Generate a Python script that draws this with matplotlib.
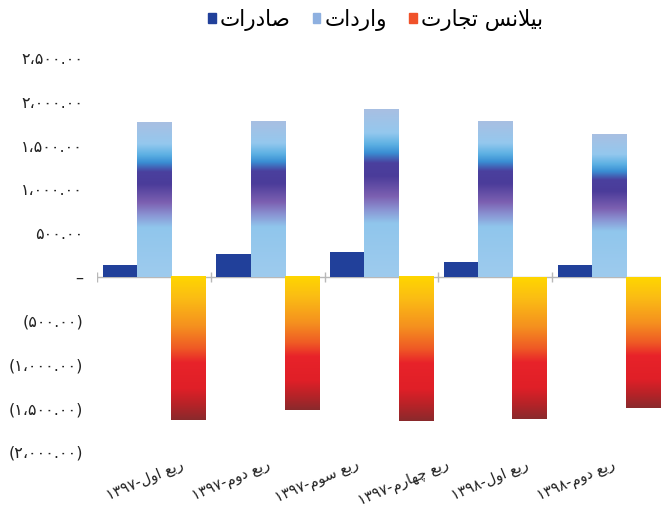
import re
import numpy as np
import matplotlib
matplotlib.use("Agg")
import matplotlib.pyplot as plt
import matplotlib.patches as mpatches
from matplotlib.colors import LinearSegmentedColormap
from matplotlib.ticker import FuncFormatter

plt.rcParams['font.family'] = ['DejaVu Sans']

# quarterly trade figures
quarters = ["ربع اول-۱۳۹۷", "ربع دوم-۱۳۹۷", "ربع سوم-۱۳۹۷",
            "ربع چهارم-۱۳۹۷", "ربع اول-۱۳۹۸", "ربع دوم-۱۳۹۸"]
series_names = ["صادرات", "واردات", "بیلانس تجارت"]
exports = [140, 265, 285, 172, 138]
imports = [1762, 1772, 1918, 1772, 1632]
balance = [-1640, -1525, -1645, -1618, -1496]
y_ticks = [-2000, -1500, -1000, -500, 0, 500, 1000, 1500, 2000, 2500]

# ---- minimal arabic/persian shaping (matplotlib has no bidi/shaping) ----
FORMS = {  # isolated, final, initial, medial
    'ا': ('\uFE8D', '\uFE8E', None, None),
    'ب': ('\uFE8F', '\uFE90', '\uFE91', '\uFE92'),
    'ت': ('\uFE95', '\uFE96', '\uFE97', '\uFE98'),
    'ج': ('\uFE9D', '\uFE9E', '\uFE9F', '\uFEA0'),
    'چ': ('\uFB7A', '\uFB7B', '\uFB7C', '\uFB7D'),
    'د': ('\uFEA9', '\uFEAA', None, None),
    'ر': ('\uFEAD', '\uFEAE', None, None),
    'س': ('\uFEB1', '\uFEB2', '\uFEB3', '\uFEB4'),
    'ص': ('\uFEB9', '\uFEBA', '\uFEBB', '\uFEBC'),
    'ع': ('\uFEC9', '\uFECA', '\uFECB', '\uFECC'),
    'ل': ('\uFEDD', '\uFEDE', '\uFEDF', '\uFEE0'),
    'م': ('\uFEE1', '\uFEE2', '\uFEE3', '\uFEE4'),
    'ن': ('\uFEE5', '\uFEE6', '\uFEE7', '\uFEE8'),
    'ه': ('\uFEE9', '\uFEEA', '\uFEEB', '\uFEEC'),
    'و': ('\uFEED', '\uFEEE', None, None),
    'ی': ('\uFBFC', '\uFBFD', '\uFEF3', '\uFEF4'),
}


def shape_fa(text):
    out = []
    i = 0
    n = len(text)
    while i < n:
        c = text[i]
        if c not in FORMS:
            out.append(c)
            i += 1
            continue
        prev = text[i - 1] if i > 0 else None
        nxt = text[i + 1] if i + 1 < n else None
        p = prev in FORMS and FORMS[prev][2] is not None
        if c == 'ل' and nxt == 'ا':
            out.append('\uFEFC' if p else '\uFEFB')
            i += 2
            continue
        iso, fin, ini, med = FORMS[c]
        q = ini is not None and nxt in FORMS
        if p and q:
            out.append(med)
        elif p:
            out.append(fin)
        elif q:
            out.append(ini)
        else:
            out.append(iso)
        i += 1
    return ''.join(out)


def rtl(text):
    s = shape_fa(text)
    runs = re.findall(r'[۰-۹0-9]+|[^۰-۹0-9]+', s)
    return ''.join(r if r[0] in '۰۱۲۳۴۵۶۷۸۹0123456789' else r[::-1]
                   for r in reversed(runs))


FA_DIGITS = str.maketrans('0123456789,', '۰۱۲۳۴۵۶۷۸۹،')


def fa_money(v, pos):
    if abs(v) < 1e-9:
        return '–'
    s = f'{abs(v):,.2f}'.translate(FA_DIGITS)
    return f'({s})' if v < 0 else s


# gradients (top -> bottom of each bar)
cmap_imp = LinearSegmentedColormap.from_list('imp', [
    (0.0, '#a8bfe2'), (0.14, '#94c8ee'), (0.21, '#5cb0e3'), (0.26, '#3a8ed3'),
    (0.32, '#4a409e'), (0.40, '#4b3c9a'), (0.52, '#7c60b1'), (0.60, '#8a94d3'),
    (0.68, '#90c6ec'), (1.0, '#9ecbee')])
cmap_bal = LinearSegmentedColormap.from_list('bal', [
    (0.0, '#ffd600'), (0.15, '#fbbd14'), (0.35, '#f5901f'), (0.5, '#ef5a25'),
    (0.6, '#e8232a'), (0.78, '#e01f27'), (0.9, '#b42328'), (1.0, '#8a2a2c')])
grad = np.linspace(0, 1, 256).reshape(-1, 1)

fig = plt.figure(figsize=(6.61, 5.08), dpi=100)
ax = fig.add_axes([97 / 661, 56 / 508, 1 - 97 / 661, 394 / 508])

x = np.arange(len(exports))
w = 0.3
ax.bar(x + 0.05, exports, width=w, align='edge', color='#21409a', zorder=2)
imp_bars = ax.bar(x + 0.05 + w, imports, width=w, align='edge', color='none', zorder=2)
bal_bars = ax.bar(x + 0.05 + 2 * w, balance, width=w, align='edge', color='none', zorder=2)

for bars, cmap in ((imp_bars, cmap_imp), (bal_bars, cmap_bal)):
    for b in bars:
        x0, y0 = b.get_x(), b.get_y()
        y1 = y0 + b.get_height()
        ax.imshow(grad, cmap=cmap, aspect='auto', origin='upper', zorder=2,
                  extent=(x0, x0 + b.get_width(), min(y0, y1), max(y0, y1)))

# category axis at zero
ax.axhline(0, color='#b8b8b8', lw=1, zorder=1)
ax.vlines(np.arange(len(exports) + 1), -60, 60, color='#b8b8b8', lw=1, zorder=1)

ax.set_xlim(0, (661 - 97) / 113.8)
ax.set_ylim(-2000, 2500)
ax.set_yticks(y_ticks)
ax.yaxis.set_major_formatter(FuncFormatter(fa_money))
ax.tick_params(axis='y', length=0, pad=10, labelsize=11.5, labelcolor='#222222')

ax.set_xticks(np.linspace(0.42, 4.21, len(quarters)))
ax.set_xticklabels([rtl(q) for q in quarters], rotation=23, ha='center', va='top',
                   fontsize=10.5, color='#222222')
ax.tick_params(axis='x', length=0, pad=4)

for s in ax.spines.values():
    s.set_visible(False)

handles = [mpatches.Patch(color='#21409a'),
           mpatches.Patch(color='#8eb0e0'),
           mpatches.Patch(color='#f0522a')]
fig.legend(handles, [rtl(s) for s in series_names], loc='center',
           bbox_to_anchor=(0.568, 0.961), ncol=3, frameon=False, fontsize=15.5,
           handlelength=0.37, handleheight=0.37, handletextpad=0.2,
           columnspacing=1.0)

fig.savefig('out.png', dpi=100)
